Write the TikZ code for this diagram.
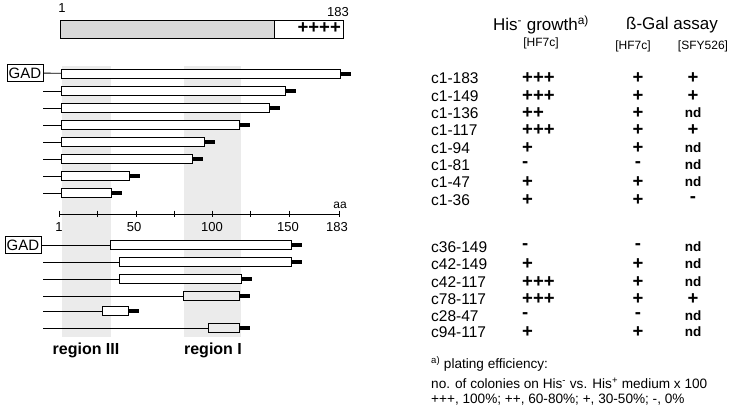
\documentclass[tikz,border=0pt]{standalone}
\usepackage{fontspec}
\setmainfont{Liberation Sans}
\usetikzlibrary{positioning}
\definecolor{regiongray}{HTML}{EBEBEB}
\definecolor{hdrgray}{HTML}{D9D9D9}
\tikzset{
  bar/.style   ={draw,line width=0.8pt,fill=white,minimum height=9pt,inner sep=0pt,
                 outer sep=0pt,anchor=west},
  tag/.style   ={fill=black,minimum width=11pt,minimum height=4.5pt,inner sep=0pt,
                 outer sep=0pt,anchor=west},
  stem/.style  ={line width=0.8pt},
  gadbox/.style={draw,line width=1pt,inner sep=0pt,minimum width=36pt,minimum height=17pt,
                 font=\fontsize{15}{15}\selectfont},
  numlab/.style={font=\fontsize{13}{13}\selectfont,inner sep=0pt},
  lab/.style   ={font=\fontsize{15.5}{15.5}\selectfont,inner sep=0pt},
  hdr/.style   ={font=\fontsize{17}{17}\selectfont,inner sep=0pt},
  strain/.style={font=\fontsize{12}{12}\selectfont,inner sep=0pt},
  pl/.style    ={font=\fontsize{18.5}{18.5}\bfseries\selectfont,inner sep=0pt},
  nd/.style    ={font=\fontsize{13.5}{13.5}\bfseries\selectfont,inner sep=0pt},
  note/.style  ={font=\fontsize{13.6}{15}\selectfont,inner sep=0pt,anchor=west},
  regname/.style={font=\fontsize{16}{16}\bfseries\selectfont,inner sep=0pt}
}
\begin{document}
\begin{tikzpicture}[x=1pt,y=-1pt]
  \useasboundingbox (0,0) rectangle (735,410);
  % shaded regions
  \fill[regiongray] (62,66) rectangle (111,337);
  \fill[regiongray] (184,66) rectangle (241,337);
  % full-length protein
  \node[draw,line width=0.8pt,fill=hdrgray,minimum width=214pt,minimum height=18pt,
        inner sep=0pt,outer sep=0pt,anchor=west] (nterm) at (60,29) {};
  \node[draw,line width=0.8pt,fill=white,minimum width=69pt,minimum height=18pt,
        inner sep=0pt,outer sep=0pt,anchor=west] (cterm) at (nterm.east) {};
  \node[pl,anchor=east] (acid) at ([xshift=-2pt,yshift=0.5pt]cterm.east) {++++};
  \node[numlab] (first) at (62,8) {1};
  \node[numlab] (last) at (338,12) {183};
  % N-terminal series
  \node[gadbox] (gadA) at (25,73) {GAD};
  \foreach \r/\y/\e in {1/74/340,2/91/285,3/108/269,4/125/239,5/142/204,6/159/192,7/176/129,8/193/111}{
    \node[bar,minimum width={(\e-61)*1pt}] (t\r) at (61,\y) {};
    \node[tag] (tt\r) at (t\r.east) {};
  }
  \draw[stem] (gadA) -- (t1);
  \foreach \r in {2,...,8}{
    \coordinate (ts\r) at (43,0 |- t\r.west);
    \draw[stem] (ts\r) -- (t\r);
  }
  % axis
  \draw[line width=0.9pt] (59.3,214) -- (339.3,214);
  \foreach \x in {59.3,97.7,136,174.3,212.7,250.7,289,339.3}
    \draw[line width=0.8pt] (\x,210.7) -- (\x,217.3);
  \foreach \x/\t in {59/1,134/50,212/100,288/150,337/183}
    \node[numlab] (tick\t) at (\x,227) {\t};
  \node[strain] (aa) at (340,205) {aa};
  % internal fragments
  \node[gadbox] (gadB) at (23,245) {GAD};
  \foreach \r/\y/\s/\e/\f in {1/245/110/291/white,2/262/119/291/white,3/279/119/241/white,
                              4/296/183/239/regiongray,5/311/102/128/white,6/328/208/239/regiongray}{
    \node[bar,fill=\f,minimum width={(\e-\s)*1pt}] (b\r) at (\s,\y) {};
    \node[tag] (bt\r) at (b\r.east) {};
  }
  \draw[stem] (gadB) -- (b1);
  \foreach \r in {2,...,6}{
    \coordinate (bs\r) at (43,0 |- b\r.west);
    \draw[stem] (bs\r) -- (b\r);
  }
  \node[regname] (regIII) at (86,350) {region III};
  \node[regname] (regI) at (213,350) {region I};
  % table
  \node[hdr] (growth) at (541,25) {His\textsuperscript{-} growth\textsuperscript{a)}};
  \node[strain] (growthstr) at (541,43) {[HF7c]};
  \node[hdr] (gal) at (672,25) {ß-Gal assay};
  \node[strain] (galA) at (633,46) {[HF7c]};
  \node[strain] (galB) at (703,46) {[SFY526]};
  \foreach \n/\y/\c/\g/\h/\s/\st in {1/78/c1-183/+++/+/+/pl,2/96/c1-149/+++/+/+/pl,
      3/113/c1-136/++/+/nd/nd,4/130/c1-117/+++/+/+/pl,5/148/c1-94/+/+/nd/nd,
      6/165/c1-81/-/-/nd/nd,7/182/c1-47/+/+/nd/nd,8/200/c1-36/+/+/-/pl,
      9/247/c36-149/-/-/nd/nd,10/264/c42-149/+/+/nd/nd,11/282/c42-117/+++/+/nd/nd,
      12/299/c78-117/+++/+/+/pl,13/316/c28-47/-/-/nd/nd,14/332/c94-117/+/+/nd/nd}{
    \node[lab,anchor=west] (row\n) at (431,\y) {\c};
    \node[pl,anchor=west] (gr\n) at (522,\y) {\g};
    \node[pl] (hf\n) at (638,\y) {\h};
    \node[\st] (sf\n) at (693,\y) {\s};
  }
  % footnote
  \node[note] (fnA) at (431,364) {\textsuperscript{a)} plating efficiency:};
  \node[note] (fnB) at (431,383) {no. of colonies on His\textsuperscript{-} vs. His\textsuperscript{+} medium x 100};
  \node[note] (fnC) at (431,400) {+++, 100\%; ++, 60-80\%; +, 30-50\%; -, 0\%};
\end{tikzpicture}
\end{document}
